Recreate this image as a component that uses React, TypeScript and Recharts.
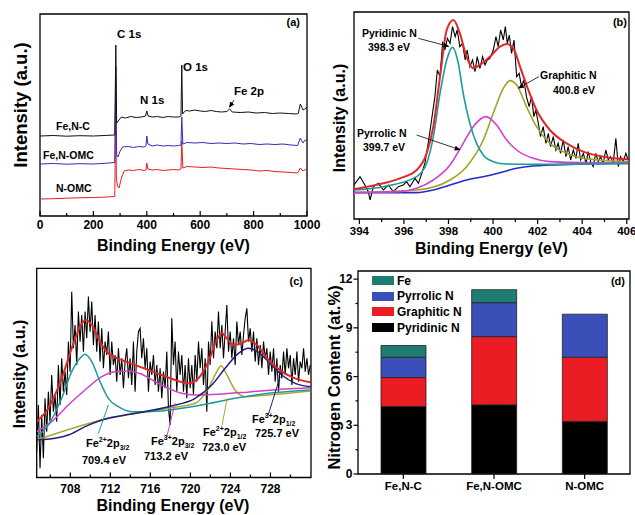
import React from "react";
import {
  Bar,
  BarChart,
  Legend,
  Line,
  LineChart,
  ReferenceArea,
  ReferenceLine,
  XAxis,
  YAxis,
} from "recharts";

const FONT = '"Liberation Sans", Arial, Helvetica, sans-serif';
const W = 635;
const H = 515;
const AX = 30; // room reserved for each visible axis

type Pt = [number, number];

// (a) XPS survey spectra: [binding energy (eV), intensity (a.u.)]
const surveyFeNC: Pt[] = [
  [0, 77], [50, 77.5], [100, 76.8], [150, 77.3], [200, 77], [250, 77.6], [280, 78],
  [284, 168], [287, 90], [293, 92], [305, 96], [320, 95], [340, 96.5], [360, 95.5],
  [380, 96], [395, 97], [400, 102], [405, 97], [420, 96], [440, 96.5], [460, 95.5],
  [480, 96.5], [500, 96], [520, 96], [528, 97], [531, 148], [534, 99], [545, 102.5],
  [560, 102], [580, 103], [600, 102], [620, 101.5], [640, 102.5], [660, 101.5],
  [680, 101], [700, 101.5], [710, 104], [720, 101], [750, 100.5], [780, 101],
  [810, 100], [840, 100.5], [870, 99.5], [900, 100], [930, 99.5], [960, 99],
  [967, 99.5], [975, 109], [985, 103], [992, 104], [1000, 106],
];
const surveyFeNOMC: Pt[] = [
  [0, 49], [50, 49.5], [100, 48.8], [150, 49.3], [200, 49], [250, 49.8], [280, 50.5],
  [284, 146], [287, 58], [292, 56], [300, 62], [310, 66], [330, 66.5], [350, 65.5],
  [370, 66.5], [390, 66], [397, 67], [400, 77], [404, 69], [420, 67], [440, 68],
  [460, 67], [480, 67.5], [500, 67], [520, 67.5], [528, 68], [531, 96], [535, 69],
  [550, 70.5], [580, 70], [610, 70.5], [640, 69.5], [670, 70], [700, 69.5], [730, 70],
  [760, 69], [790, 69.5], [820, 68.5], [850, 69], [880, 68.5], [910, 69], [940, 68],
  [965, 67.5], [975, 75], [985, 70], [993, 73], [1000, 72],
];
const surveyNOMC: Pt[] = [
  [0, 14], [50, 14.3], [100, 14.8], [150, 15.2], [200, 15.5], [250, 16], [280, 16.5],
  [284, 110], [286, 34], [290, 27], [296, 25], [305, 35], [315, 42], [330, 43],
  [350, 42.5], [370, 43.5], [390, 42.5], [397, 43], [400, 50], [404, 44], [420, 43],
  [440, 43.5], [460, 42.5], [480, 43], [500, 43.5], [520, 43], [528, 44], [531, 72],
  [535, 45], [550, 46.5], [580, 46], [610, 45.5], [640, 46], [670, 45], [700, 44.5],
  [730, 44], [760, 43.5], [790, 43], [820, 42], [850, 42.5], [880, 41.5], [910, 41],
  [940, 40.5], [965, 40], [975, 45], [985, 42], [993, 43.5], [1000, 42],
];
const surveyMajor = [0, 200, 400, 600, 800, 1000];
const surveyMinor = [100, 300, 500, 700, 900];

// (b) N 1s high resolution
const n1sRaw: Pt[] = [
  [393.76, 99], [394.03, 124], [394.25, 99], [394.4, 79], [394.48, 54], [394.63, 94],
  [394.85, 104], [395.08, 84], [395.3, 99], [395.52, 79], [395.75, 94], [395.97, 99],
  [396.12, 109], [396.27, 94], [396.5, 119], [396.65, 104], [396.8, 134], [396.94, 164],
  [397.09, 224], [397.24, 294], [397.39, 364], [397.5, 444], [397.62, 424], [397.74, 529],
  [397.84, 504], [397.95, 539], [398.07, 524], [398.18, 574], [398.3, 544], [398.39, 564],
  [398.51, 514], [398.63, 524], [398.75, 474], [398.84, 504], [398.96, 454], [399.08, 474],
  [399.19, 439], [399.29, 484], [399.41, 449], [399.53, 484], [399.64, 459], [399.74, 474],
  [399.86, 479], [400.01, 504], [400.13, 544], [400.23, 514], [400.34, 564], [400.46, 534],
  [400.55, 574], [400.64, 524], [400.73, 549], [400.83, 494], [400.94, 534], [401.06, 424],
  [401.17, 434], [401.28, 394], [401.38, 414], [401.5, 364], [401.62, 334], [401.73, 364],
  [401.83, 304], [401.92, 324], [402.03, 284], [402.13, 244], [402.25, 274], [402.37, 224],
  [402.48, 254], [402.58, 214], [402.7, 244], [402.82, 204], [402.92, 224], [403.03, 194],
  [403.15, 234], [403.27, 184], [403.37, 214], [403.48, 174], [403.6, 204], [403.72, 179],
  [403.82, 224], [403.93, 174], [404.05, 194], [404.17, 164], [404.27, 199], [404.38, 169],
  [404.49, 154], [404.61, 194], [404.72, 169], [404.82, 184], [404.94, 164], [405.06, 204],
  [405.17, 174], [405.27, 184], [405.39, 164], [405.51, 239], [405.62, 154], [405.72, 184],
  [405.84, 169], [405.96, 194], [406.06, 174],
];
const n1sEnvelope: Pt[] = [
  [393.76, 86], [395.08, 104], [395.82, 119], [396.57, 144], [397.02, 194], [397.32, 274],
  [397.62, 424], [397.92, 564], [398.22, 594], [398.51, 554], [398.81, 484], [399.11, 449],
  [399.41, 459], [399.86, 484], [400.31, 514], [400.61, 522], [400.91, 509], [401.21, 454],
  [401.5, 399], [401.95, 324], [402.55, 264], [403.3, 224], [404.05, 199], [404.94, 184],
  [406.06, 176],
];
const n1sPyridinic: Pt[] = [
  [393.76, 84], [395.08, 94], [396.57, 124], [397.02, 164], [397.32, 244], [397.62, 374],
  [397.92, 474], [398.18, 512], [398.44, 464], [398.66, 374], [398.96, 284], [399.26, 224],
  [399.56, 189], [400.01, 169], [400.61, 162], [401.8, 161], [406.06, 164],
];
const n1sPyrrolic: Pt[] = [
  [393.76, 76], [395.82, 79], [396.57, 89], [397.32, 114], [398.07, 159], [398.66, 224],
  [399.11, 274], [399.68, 304], [400.16, 279], [400.61, 234], [401.06, 204], [401.8, 179],
  [402.55, 169], [404.05, 166], [406.06, 166],
];
const n1sGraphitic: Pt[] = [
  [393.76, 76], [396.57, 84], [398.07, 114], [398.81, 154], [399.56, 234], [400.01, 314],
  [400.46, 389], [400.76, 412], [401.06, 399], [401.5, 334], [401.95, 274], [402.55, 224],
  [403.3, 194], [404.05, 179], [404.79, 174], [406.06, 169],
];
const n1sBaseline: Pt[] = [
  [393.76, 76], [395.08, 76], [396.57, 76], [397.32, 84], [398.07, 99], [398.81, 114],
  [399.56, 124], [400.31, 136], [401.06, 149], [401.8, 156], [402.55, 159], [404.05, 162],
  [406.06, 164],
];
const n1sMajor = [394, 396, 398, 400, 402, 404, 406];
const n1sMinor = [395, 397, 399, 401, 403, 405];

// (c) Fe 2p high resolution, raw counts sampled from 704.64 eV every 1/6 eV
const fe2pStart = 704.64;
const fe2pStep = 1 / 6;
const fe2pRaw = [
  76, 216, 26, 186, 56, 236, 136, 256, 166, 306, 196, 246, 166, 336, 216, 356, 256, 316,
  246, 406, 316, 556, 386, 456, 336, 496, 406, 486, 376, 496, 416, 541, 436, 526, 396, 486,
  376, 466, 346, 446, 326, 406, 366, 436, 306, 406, 336, 366, 286, 386, 306, 356, 266, 346,
  386, 296, 356, 276, 406, 256, 376, 436, 446, 356, 416, 326, 386, 256, 346, 306, 366, 276,
  336, 256, 326, 236, 316, 266, 376, 206, 156, 476, 336, 406, 256, 376, 306, 366, 256, 336,
  236, 356, 266, 336, 246, 366, 286, 406, 326, 386, 276, 356, 196, 406, 336, 466, 356, 436,
  386, 496, 386, 456, 356, 436, 516, 376, 436, 356, 416, 336, 466, 396, 436, 366, 426, 476,
  506, 406, 446, 376, 436, 346, 416, 336, 396, 326, 406, 356, 386, 306, 376, 316, 386, 286,
  356, 256, 336, 296, 376, 306, 386, 326, 366, 276, 356, 306, 376, 286, 346, 326, 386, 316,
  356, 306, 336,
];
const fe2pEnvelope: Pt[] = [
  [704.64, 166], [705.8, 206], [707.14, 296], [708.14, 386], [708.97, 451], [709.54, 471],
  [710.14, 456], [710.97, 406], [711.8, 371], [713.14, 351], [714.47, 336], [715.8, 321],
  [717.14, 306], [718.47, 291], [719.8, 281], [720.8, 296], [721.8, 346], [722.64, 411],
  [723.14, 431], [723.64, 416], [724.3, 396], [725.14, 401], [725.8, 411], [726.64, 396],
  [727.8, 351], [729.14, 316], [730.47, 296], [732.0, 284],
];
const fe2pFe2p32: Pt[] = [
  [704.64, 121], [705.8, 156], [707.14, 236], [708.14, 316], [708.97, 356], [709.47, 368],
  [710.14, 346], [710.97, 286], [711.8, 236], [712.8, 211], [714.14, 196], [715.8, 196],
  [721.14, 216], [724.47, 236], [727.8, 251], [732.0, 261],
];
const fe2pFe3p32: Pt[] = [
  [704.64, 136], [706.14, 166], [707.8, 216], [709.47, 261], [711.14, 301], [712.47, 316],
  [713.8, 318], [715.14, 308], [716.47, 286], [717.8, 266], [719.14, 251], [720.47, 246],
  [722.8, 248], [726.14, 256], [729.47, 264], [732.0, 268],
];
const fe2pFe2p12: Pt[] = [
  [704.64, 111], [711.14, 171], [717.8, 206], [720.47, 221], [721.8, 266], [722.64, 316],
  [723.07, 334], [723.64, 306], [724.47, 261], [725.47, 241], [727.8, 246], [732.0, 258],
];
const fe2pFe3p12: Pt[] = [
  [704.64, 111], [706.47, 116], [707.8, 126], [709.47, 151], [711.14, 171], [714.47, 191],
  [717.8, 211], [720.47, 236], [722.14, 276], [723.47, 326], [724.8, 371], [725.8, 386],
  [726.8, 374], [727.8, 346], [729.14, 306], [730.47, 281], [732.0, 271],
];
const fe2pMajor = [708, 712, 716, 720, 724, 728];
const fe2pMinor = [706, 710, 714, 718, 722, 726, 730];

// (d) nitrogen content (at.%)
const samples = ["Fe,N-C", "Fe,N-OMC", "N-OMC"];
const pyridinicN = [4.16, 4.26, 3.24];
const graphiticN = [1.78, 4.2, 3.95];
const pyrrolicN = [1.25, 2.09, 2.65];
const feContent = [0.72, 0.8, 0];
const contentMajor = [0, 3, 6, 9, 12];
const contentMinor = [1.5, 4.5, 7.5, 10.5];
const legendOrder = ["Fe", "Pyrrolic N", "Graphitic N", "Pyridinic N"];

const pts = (arr: Pt[]) => arr.map(([x, y]) => ({ x, y }));
const fe2pRawPts = fe2pRaw.map((y, i) => ({ x: fe2pStart + i * fe2pStep, y }));

const contentData = samples.map((name, i) => ({
  name,
  pyridinic: pyridinicN[i],
  graphitic: graphiticN[i],
  pyrrolic: pyrrolicN[i],
  fe: feContent[i],
}));

const frame = { fill: "none", stroke: "#000", strokeWidth: 1.3, fillOpacity: 1 };
const layer: React.CSSProperties = { position: "absolute", left: 0, top: 0 };
const labelStyle = { fontFamily: FONT, fontWeight: 700, fill: "#000" };

// bottom axis tick: recharts hands over the axis-line position (tickSize = tickMargin = 0)
const bottomTick = (majors: any[], inward: boolean, labelDy: number, size = 12) => (props: any) => {
  const { x, y, payload } = props;
  const major = majors.includes(payload.value);
  const len = major ? 5 : 3;
  return (
    <g>
      <line x1={x} y1={y} x2={x} y2={inward ? y - len : y + len} stroke="#000" strokeWidth={1.2} />
      {major && (
        <text x={x} y={y + labelDy} textAnchor="middle" fontSize={size} {...labelStyle}>
          {payload.value}
        </text>
      )}
    </g>
  );
};

const leftTick = (majors: number[]) => (props: any) => {
  const { x, y, payload } = props;
  const major = majors.includes(payload.value);
  const len = major ? 4.5 : 2.5;
  return (
    <g>
      <line x1={x} y1={y} x2={x - len} y2={y} stroke="#000" strokeWidth={1.2} />
      {major && (
        <text x={x - 5.5} y={y + 4.2} textAnchor="end" fontSize={12} {...labelStyle}>
          {payload.value}
        </text>
      )}
    </g>
  );
};

const renderLegend = (props: any) => {
  const items = [...(props.payload || [])].sort(
    (a: any, b: any) => legendOrder.indexOf(a.value) - legendOrder.indexOf(b.value)
  );
  return (
    <div style={{ fontFamily: FONT, fontWeight: 700, fontSize: 12, color: "#000" }}>
      {items.map((it: any) => (
        <div key={it.value} style={{ display: "flex", alignItems: "center", height: 15.6 }}>
          <span style={{ display: "inline-block", width: 22, height: 9, background: it.color, marginRight: 3 }} />
          <span>{it.value}</span>
        </div>
      ))}
    </div>
  );
};

const Txt = ({ x, y, size = 11, anchor = "start", children }: any) => (
  <text x={x} y={y} fontSize={size} textAnchor={anchor} {...labelStyle}>
    {children}
  </text>
);

const VTxt = ({ x, y, size = 16, children }: any) => (
  <text transform={`translate(${x},${y}) rotate(-90)`} fontSize={size} textAnchor="middle" {...labelStyle}>
    {children}
  </text>
);

const FeLabel = ({ x, y, ox, sub }: any) => (
  <text x={x} y={y} fontSize={11} {...labelStyle}>
    Fe
    <tspan dy={-5} fontSize={7}>{ox}</tspan>
    <tspan dy={5} fontSize={11}>2p</tspan>
    <tspan dy={3} fontSize={7}>{sub}</tspan>
  </text>
);

export default function App() {
  return (
    <div style={{ position: "absolute", left: 0, top: 0, width: W, height: H, background: "#fff", overflow: "hidden" }}>
      {/* (a) survey */}
      <div style={layer}>
        <LineChart width={W} height={H} margin={{ top: 14, right: W - 307, bottom: H - 216 - AX, left: 40 }}>
          <XAxis dataKey="x" type="number" domain={[0, 1000]} ticks={[...surveyMajor, ...surveyMinor]}
            allowDataOverflow interval={0} height={AX} axisLine={false} tickLine={false}
            tickSize={0} tickMargin={0} tick={bottomTick(surveyMajor, true, 13)} />
          <YAxis type="number" domain={[-3, 199]} allowDataOverflow hide />
          <Line data={pts(surveyNOMC)} dataKey="y" type="linear" stroke="#e31e24" strokeWidth={1} dot={false} isAnimationActive={false} />
          <Line data={pts(surveyFeNOMC)} dataKey="y" type="linear" stroke="#2f2fb8" strokeWidth={1} dot={false} isAnimationActive={false} />
          <Line data={pts(surveyFeNC)} dataKey="y" type="linear" stroke="#111" strokeWidth={1} dot={false} isAnimationActive={false} />
          <ReferenceLine segment={[{ x: 727, y: 113 }, { x: 710, y: 106 }]} stroke="#000" strokeWidth={0.8}
            markerEnd="url(#arrowHead)" ifOverflow="visible" />
          <ReferenceArea x1={0} x2={1000} y1={-3} y2={199} {...frame} ifOverflow="visible" />
        </LineChart>
      </div>

      {/* (b) N 1s */}
      <div style={layer}>
        <LineChart width={W} height={H} margin={{ top: 12, right: W - 629, bottom: H - 219 - AX, left: 354 }}>
          <XAxis dataKey="x" type="number" domain={[393.76, 406.1]} ticks={[...n1sMajor, ...n1sMinor]}
            allowDataOverflow interval={0} height={AX} axisLine={false} tickLine={false}
            tickSize={0} tickMargin={0} tick={bottomTick(n1sMajor, false, 16, 11.5)} />
          <YAxis type="number" domain={[-3, 618]} allowDataOverflow hide />
          <Line data={pts(n1sRaw)} dataKey="y" type="linear" stroke="#000" strokeWidth={1.1} dot={false} isAnimationActive={false} />
          <Line data={pts(n1sBaseline)} dataKey="y" type="monotone" stroke="#2a2ac8" strokeWidth={1.6} dot={false} isAnimationActive={false} />
          <Line data={pts(n1sGraphitic)} dataKey="y" type="monotone" stroke="#a3a323" strokeWidth={1.6} dot={false} isAnimationActive={false} />
          <Line data={pts(n1sPyrrolic)} dataKey="y" type="monotone" stroke="#d340d0" strokeWidth={1.6} dot={false} isAnimationActive={false} />
          <Line data={pts(n1sPyridinic)} dataKey="y" type="monotone" stroke="#1a9c9a" strokeWidth={1.6} dot={false} isAnimationActive={false} />
          <Line data={pts(n1sEnvelope)} dataKey="y" type="monotone" stroke="#e3262a" strokeWidth={2} dot={false} isAnimationActive={false} />
          <ReferenceLine segment={[{ x: 396.65, y: 539 }, { x: 398.0, y: 515 }]} stroke="#000" strokeWidth={0.8}
            markerEnd="url(#arrowHead)" ifOverflow="visible" />
          <ReferenceLine segment={[{ x: 402.05, y: 424 }, { x: 401.15, y: 390 }]} stroke="#000" strokeWidth={0.8}
            markerEnd="url(#arrowHead)" ifOverflow="visible" />
          <ReferenceLine segment={[{ x: 396.57, y: 249 }, { x: 398.5, y: 205 }]} stroke="#000" strokeWidth={0.8}
            markerEnd="url(#arrowHead)" ifOverflow="visible" />
          <ReferenceArea x1={393.76} x2={406.1} y1={-3} y2={618} {...frame} ifOverflow="visible" />
        </LineChart>
      </div>

      {/* (c) Fe 2p */}
      <div style={layer}>
        <LineChart width={W} height={H} margin={{ top: 268.3, right: W - 311, bottom: H - 477.5 - AX, left: 36.7 }}>
          <XAxis dataKey="x" type="number" domain={[704.64, 732.05]} ticks={[...fe2pMajor, ...fe2pMinor]}
            allowDataOverflow interval={0} height={AX} axisLine={false} tickLine={false}
            tickSize={0} tickMargin={0} tick={bottomTick(fe2pMajor, true, 15.5)} />
          <YAxis type="number" domain={[-1.5, 626]} allowDataOverflow hide />
          <Line data={fe2pRawPts} dataKey="y" type="linear" stroke="#000" strokeWidth={1.1} dot={false} isAnimationActive={false} />
          <Line data={pts(fe2pFe2p12)} dataKey="y" type="monotone" stroke="#a8a830" strokeWidth={1.5} dot={false} isAnimationActive={false} />
          <Line data={pts(fe2pFe3p32)} dataKey="y" type="monotone" stroke="#d040c8" strokeWidth={1.5} dot={false} isAnimationActive={false} />
          <Line data={pts(fe2pFe2p32)} dataKey="y" type="monotone" stroke="#1e9a9a" strokeWidth={1.5} dot={false} isAnimationActive={false} />
          <Line data={pts(fe2pFe3p12)} dataKey="y" type="monotone" stroke="#1e1e80" strokeWidth={1.5} dot={false} isAnimationActive={false} />
          <Line data={pts(fe2pEnvelope)} dataKey="y" type="monotone" stroke="#e02828" strokeWidth={2} dot={false} isAnimationActive={false} />
          <ReferenceLine segment={[{ x: 710.8, y: 131 }, { x: 711.8, y: 216 }]} stroke="#1e9a9a" strokeWidth={1} ifOverflow="visible" />
          <ReferenceLine segment={[{ x: 717.64, y: 121 }, { x: 718.47, y: 222 }]} stroke="#d040c8" strokeWidth={1} ifOverflow="visible" />
          <ReferenceLine segment={[{ x: 723.17, y: 156 }, { x: 723.67, y: 236 }]} stroke="#a8a830" strokeWidth={1} ifOverflow="visible" />
          <ReferenceLine segment={[{ x: 727.77, y: 186 }, { x: 728.97, y: 301 }]} stroke="#1e1e80" strokeWidth={1} ifOverflow="visible" />
          <ReferenceArea x1={704.64} x2={732.05} y1={-1.5} y2={626} {...frame} ifOverflow="visible" />
        </LineChart>
      </div>

      {/* (d) nitrogen content */}
      <div style={layer}>
        <BarChart width={W} height={H} data={contentData}
          margin={{ top: 271, right: W - 630, bottom: H - 474 - AX, left: 358 - AX }}>
          <XAxis dataKey="name" height={AX} axisLine={false} tickLine={false} tickSize={0} tickMargin={0}
            tick={bottomTick(samples, false, 16, 11.5)} interval={0} />
          <YAxis type="number" domain={[0, 12.5]} ticks={[...contentMajor, ...contentMinor]} allowDataOverflow
            interval={0} width={AX} axisLine={false} tickLine={false} tickSize={0} tickMargin={0}
            tick={leftTick(contentMajor)} />
          <Bar dataKey="pyridinic" name="Pyridinic N" stackId="n" fill="#000" stroke="#222" strokeWidth={0.8} barSize={45} isAnimationActive={false} />
          <Bar dataKey="graphitic" name="Graphitic N" stackId="n" fill="#ec1c24" stroke="#222" strokeWidth={0.8} barSize={45} isAnimationActive={false} />
          <Bar dataKey="pyrrolic" name="Pyrrolic N" stackId="n" fill="#3b4fb8" stroke="#222" strokeWidth={0.8} barSize={45} isAnimationActive={false} />
          <Bar dataKey="fe" name="Fe" stackId="n" fill="#1f7c70" stroke="#222" strokeWidth={0.8} barSize={45} isAnimationActive={false} />
          <Legend content={renderLegend} layout="vertical" align="center" verticalAlign="middle"
            wrapperStyle={{ left: 372, top: 273, width: 120, height: 64 }} />
          <ReferenceArea x1={samples[0]} x2={samples[2]} y1={0} y2={12.5} {...frame} ifOverflow="visible" />
        </BarChart>
      </div>

      {/* titles and annotations */}
      <svg width={W} height={H} style={{ ...layer, pointerEvents: "none" }}>
        <defs>
          <marker id="arrowHead" markerWidth={6} markerHeight={6} refX={5} refY={3} orient="auto" markerUnits="userSpaceOnUse">
            <path d="M0,0.5 L6,3 L0,5.5 z" fill="#000" />
          </marker>
        </defs>

        {/* (a) */}
        <VTxt x={27} y={105} size={18.5}>Intensity (a.u.)</VTxt>
        <Txt x={173.5} y={251} size={16} anchor="middle">Binding Energy (eV)</Txt>
        <Txt x={300} y={26} anchor="end">(a)</Txt>
        <Txt x={117} y={38} size={11.5}>C 1s</Txt>
        <Txt x={183} y={71} size={11.5}>O 1s</Txt>
        <Txt x={140} y={104} size={11.5}>N 1s</Txt>
        <Txt x={234} y={95} size={11.5}>Fe 2p</Txt>
        <Txt x={56} y={130} size={10.5}>Fe,N-C</Txt>
        <Txt x={43} y={159} size={10.5}>Fe,N-OMC</Txt>
        <Txt x={56} y={192} size={10.5}>N-OMC</Txt>

        {/* (b) */}
        <VTxt x={345} y={118}>Intensity (a.u.)</VTxt>
        <Txt x={491.5} y={254} size={16} anchor="middle">Binding Energy (eV)</Txt>
        <Txt x={627} y={26} anchor="end">(b)</Txt>
        <Txt x={362} y={37} size={10.5}>Pyridinic N</Txt>
        <Txt x={368} y={51} size={10.5}>398.3 eV</Txt>
        <Txt x={540} y={79} size={10.5}>Graphitic N</Txt>
        <Txt x={553} y={94} size={10.5}>400.8 eV</Txt>
        <Txt x={357} y={137} size={10.5}>Pyrrolic N</Txt>
        <Txt x={363} y={151} size={10.5}>399.7 eV</Txt>

        {/* (c) */}
        <VTxt x={25} y={374}>Intensity (a.u.)</VTxt>
        <Txt x={173} y={511} size={16} anchor="middle">Binding Energy (eV)</Txt>
        <Txt x={303} y={285} anchor="end">(c)</Txt>
        <FeLabel x={86} y={446.5} ox="2+" sub="3/2" />
        <Txt x={82} y={464}>709.4 eV</Txt>
        <FeLabel x={151} y={445} ox="3+" sub="3/2" />
        <Txt x={144} y={460}>713.2 eV</Txt>
        <FeLabel x={203} y={436} ox="2+" sub="1/2" />
        <Txt x={202} y={451}>723.0 eV</Txt>
        <FeLabel x={252} y={423} ox="3+" sub="1/2" />
        <Txt x={255} y={437}>725.7 eV</Txt>

        {/* (d) */}
        <VTxt x={340} y={377.5} size={16.5}>Nitrogen Content (at.%)</VTxt>
        <Txt x={625} y={285} anchor="end">(d)</Txt>
      </svg>
    </div>
  );
}
